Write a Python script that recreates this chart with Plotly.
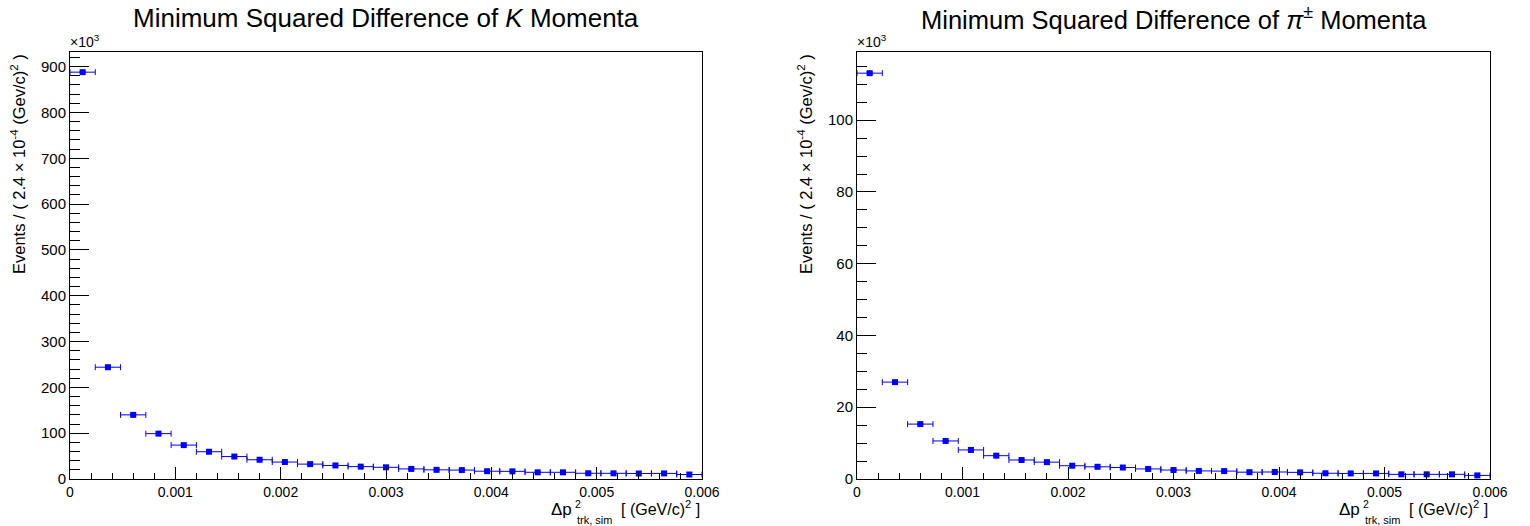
import numpy as np
import plotly.graph_objects as go

# Binning of delta p^2 [(GeV/c)^2]: 25 bins of 2.4e-4 between 0 and 0.006
bin_centers = [0.00012, 0.00036, 0.00060, 0.00084, 0.00108, 0.00132, 0.00156,
               0.00180, 0.00204, 0.00228, 0.00252, 0.00276, 0.00300, 0.00324,
               0.00348, 0.00372, 0.00396, 0.00420, 0.00444, 0.00468, 0.00492,
               0.00516, 0.00540, 0.00564, 0.00588]
bin_half_width = 0.00012

# Events per bin, in units of 10^3
kaon_counts_k = [888, 244, 140, 99, 74, 59.5, 49, 42, 37, 32.5, 29.5, 27, 25.5,
                 22, 20, 19.5, 17, 16.7, 14.6, 14.6, 12.5, 12.4, 12, 12.2, 9.8]
pion_counts_k = [113.1, 27.0, 15.3, 10.6, 8.1, 6.5, 5.3, 4.7, 3.7, 3.4, 3.2, 2.8,
                 2.5, 2.25, 2.2, 1.9, 1.95, 1.85, 1.6, 1.55, 1.55, 1.3, 1.3, 1.3, 1.0]

x_ticks = [0, 0.001, 0.002, 0.003, 0.004, 0.005, 0.006]
x_tick_labels = ["0", "0.001", "0.002", "0.003", "0.004", "0.005", "0.006"]

titles = ["Minimum Squared Difference of <i>K</i> Momenta",
          "Minimum Squared Difference of <i>\u03c0</i><sup>\u00b1</sup> Momenta"]
y_title = "Events / ( 2.4 \u00d7 10<sup>-4</sup> (Gev/c)<sup>2</sup> )"

W, H = 1530, 526
FONT = "Liberation Sans, Arial, Helvetica, sans-serif"
BLUE = "#0000ff"

# pad geometry in pixels: (left, right) of each frame, shared top/bottom
frames = [(70, 702), (857, 1490)]
top_px, bottom_px = 52, 479
y_ranges = [932, 119]
y_dticks = [100, 20]
y_minor = [20, 5]
title_sizes = [26, 25.5]


def px_x(p):
    return p / W


def px_y(p):
    return 1 - p / H


fig = go.Figure()
annotations = []

for i, (counts, (x0, x1)) in enumerate(zip([kaon_counts_k, pion_counts_k], frames)):
    xa = "x" if i == 0 else "x2"
    ya = "y" if i == 0 else "y2"
    counts = np.asarray(counts, dtype=float)
    err = np.sqrt(counts * 1000.0) / 1000.0
    fig.add_trace(go.Scatter(
        x=bin_centers, y=counts, xaxis=xa, yaxis=ya, mode="markers",
        marker=dict(symbol="square", size=6, color=BLUE, line=dict(width=0)),
        error_x=dict(type="constant", value=bin_half_width, color=BLUE,
                     thickness=1, width=3),
        error_y=dict(type="data", array=err, color=BLUE, thickness=1, width=3),
        showlegend=False, cliponaxis=False,
    ))

    common = dict(showline=True, linecolor="black", linewidth=1, mirror=True,
                  showgrid=False, zeroline=False, ticks="inside", automargin=False,
                  tickcolor="black", tickfont=dict(family=FONT, size=14, color="black"))
    xkey = "xaxis" if i == 0 else "xaxis2"
    ykey = "yaxis" if i == 0 else "yaxis2"
    fig.update_layout(**{
        xkey: dict(common, domain=[px_x(x0), px_x(x1)], range=[0, 0.006],
                   anchor=ya, tickvals=x_ticks, ticktext=x_tick_labels,
                   ticklen=12,
                   minor=dict(ticks="inside", ticklen=6.5, dtick=0.0002,
                              tickcolor="black", showgrid=False)),
        ykey: dict(common, domain=[px_y(bottom_px), px_y(top_px)],
                   range=[0, y_ranges[i]], anchor=xa, dtick=y_dticks[i],
                   tick0=0, ticklen=19,
                   tickfont=dict(family=FONT, size=15, color="black"),
                   minor=dict(ticks="inside", ticklen=10, dtick=y_minor[i],
                              tickcolor="black", showgrid=False)),
    })

    # title
    annotations.append(dict(
        text=titles[i], x=px_x((x0 + x1) / 2), y=px_y(18), xref="paper", yref="paper",
        xanchor="center", yanchor="middle", showarrow=False,
        font=dict(family=FONT, size=title_sizes[i], color="black")))
    # exponent marker
    annotations.append(dict(
        text="\u00d710<sup>3</sup>", x=px_x(x0 - 2), y=px_y(52), xref="paper", yref="paper",
        xanchor="left", yanchor="bottom", showarrow=False,
        font=dict(family=FONT, size=14, color="black")))
    # y-axis title
    annotations.append(dict(
        text=y_title, x=px_x(x0 - 52), y=px_y(top_px), xref="paper", yref="paper",
        xanchor="center", yanchor="top", textangle=-90, showarrow=False,
        font=dict(family=FONT, size=16.5, color="black")))
    # x-axis title: delta p with stacked super/subscript, then the unit
    annotations.append(dict(
        text="[ (GeV/c)<sup>2</sup> ]", x=px_x(x1), y=px_y(508), xref="paper",
        yref="paper", xanchor="right", yanchor="middle", showarrow=False,
        font=dict(family=FONT, size=16, color="black")))
    annotations.append(dict(
        text="\u0394p", x=px_x(x1 - 128), y=px_y(509), xref="paper",
        yref="paper", xanchor="right", yanchor="middle", showarrow=False,
        font=dict(family=FONT, size=17, color="black")))
    annotations.append(dict(
        text="2", x=px_x(x1 - 128), y=px_y(504), xref="paper", borderpad=0,
        yref="paper", xanchor="left", yanchor="middle", showarrow=False,
        font=dict(family=FONT, size=10.5, color="black")))
    annotations.append(dict(
        text="trk, sim", x=px_x(x1 - 126), y=px_y(520), xref="paper", borderpad=0,
        yref="paper", xanchor="left", yanchor="middle", showarrow=False,
        font=dict(family=FONT, size=11, color="black")))

fig.update_layout(
    template="none",
    width=W, height=H, margin=dict(l=0, r=0, t=0, b=0, pad=0, autoexpand=False),
    paper_bgcolor="white", plot_bgcolor="white",
    annotations=annotations,
)

fig.write_html("out.html")
